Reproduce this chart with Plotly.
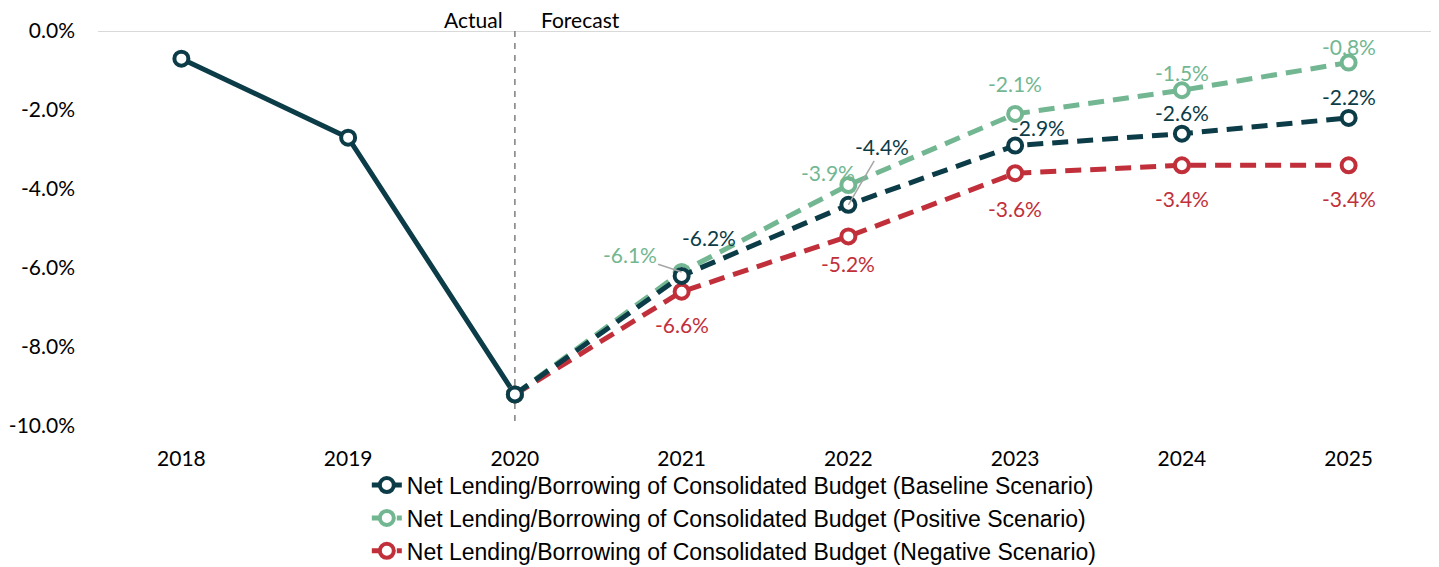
import plotly.graph_objects as go

years = ["2018", "2019", "2020", "2021", "2022", "2023", "2024", "2025"]
forecast_start = "2020"

baseline = [-0.7, -2.7, -9.2, -6.2, -4.4, -2.9, -2.6, -2.2]
positive = [None, None, -9.2, -6.1, -3.9, -2.1, -1.5, -0.8]
negative = [None, None, -9.2, -6.6, -5.2, -3.6, -3.4, -3.4]

y_ticks = [0, -2, -4, -6, -8, -10]
y_tick_text = [f"{v:.1f}%" for v in y_ticks]

names = [
    "Net Lending/Borrowing of Consolidated Budget (Baseline Scenario)",
    "Net Lending/Borrowing of Consolidated Budget (Positive Scenario)",
    "Net Lending/Borrowing of Consolidated Budget (Negative Scenario)",
]

c_base = "#0b3c47"
c_pos = "#72b792"
c_neg = "#c1303a"

tick_font = dict(family="Lato", size=21, color="#000000")
lab_font = "Lato"

k = years.index(forecast_start)
xi = list(range(len(years)))

fig = go.Figure()

marker = lambda c: dict(symbol="circle", size=14, color="white", line=dict(color=c, width=4))
dash = "16px,9px"
lw = 5

# actual part of baseline (solid)
fig.add_trace(go.Scatter(x=xi[:k + 1], y=baseline[:k + 1], mode="lines+markers",
                         name=names[0], line=dict(color=c_base, width=lw),
                         marker=marker(c_base), legendrank=1))
# forecast lines (dashed)
fig.add_trace(go.Scatter(x=xi[k:], y=negative[k:], mode="lines+markers",
                         name=names[2], line=dict(color=c_neg, width=lw, dash=dash),
                         marker=marker(c_neg), legendrank=3))
fig.add_trace(go.Scatter(x=xi[k:], y=positive[k:], mode="lines+markers",
                         name=names[1], line=dict(color=c_pos, width=lw, dash=dash),
                         marker=marker(c_pos), legendrank=2))
fig.add_trace(go.Scatter(x=xi[k:], y=baseline[k:], mode="lines+markers",
                         showlegend=False, line=dict(color=c_base, width=lw, dash=dash),
                         marker=marker(c_base)))

# data label offsets (dx, dy in px, leader line flag)
pos_off = {"2021": (-52, 17, True), "2022": (-20, 13, False), "2023": (0, 30, False),
           "2024": (0, 18, False), "2025": (0, 16, False)}
base_off = {"2021": (27, 38, False), "2022": (34, 58, True),
            "2023": (23, 18, False), "2024": (0, 21, False), "2025": (0, 21, False)}
neg_off = {"2021": (0, -33, False), "2022": (0, -27, False), "2023": (0, -35, False),
           "2024": (0, -33, False), "2025": (0, -33, False)}

annotations = []


def add_labels(vals, offs, color):
    for i, (yr, v) in enumerate(zip(years, vals)):
        o = offs.get(yr)
        if v is None or o is None:
            continue
        dx, dy, leader = o
        a = dict(x=i, y=v, xref="x", yref="y", text=f"{v:.1f}%",
                 font=dict(family=lab_font, size=21, color=color))
        if leader:
            a.update(showarrow=True, ax=dx, ay=-dy, arrowhead=0, arrowwidth=1.5,
                     arrowcolor="#a6a6a6")
        else:
            a.update(showarrow=False, xshift=dx, yshift=dy)
        annotations.append(a)


add_labels(positive, pos_off, c_pos)
add_labels(baseline, base_off, c_base)
add_labels(negative, neg_off, c_neg)

annotations.append(dict(x=k, y=0, xref="x", yref="y", text="Actual", showarrow=False,
                        xanchor="right", yanchor="bottom", xshift=-10, yshift=-3,
                        font=dict(family=lab_font, size=21, color="#000000")))
annotations.append(dict(x=k, y=0, xref="x", yref="y", text="Forecast", showarrow=False,
                        xanchor="left", yanchor="bottom", xshift=24, yshift=-3,
                        font=dict(family=lab_font, size=21, color="#000000")))

fig.add_shape(type="line", xref="paper", yref="y", x0=0, x1=1, y0=0, y1=0,
              line=dict(color="#d9d9d9", width=2), layer="below")
fig.add_shape(type="line", xref="x", yref="y", x0=k, x1=k, y0=0, y1=-10,
              line=dict(color="#7f7f7f", width=1.5, dash="6px,6px"), layer="below")

fig.update_layout(
    width=1431, height=559,
    margin=dict(l=90, r=7, t=23, b=141, autoexpand=False),
    paper_bgcolor="white", plot_bgcolor="white",
    annotations=annotations,
    showlegend=True,
    legend=dict(orientation="v", x=0.477, xanchor="center",
                yref="container", y=0.185, yanchor="top",
                font=dict(family="Liberation Sans", size=23, color="#000000"),
                tracegroupgap=0, bgcolor="rgba(0,0,0,0)"),
    xaxis=dict(tickvals=xi, ticktext=years,
               range=[-0.5, len(years) - 0.5], showgrid=False, zeroline=False,
               showline=False, ticks="", tickfont=tick_font, ticklabelstandoff=18),
    yaxis=dict(range=[-10, 0], tickvals=y_ticks, ticktext=y_tick_text,
               showgrid=False, zeroline=False, showline=False, ticks="",
               tickfont=tick_font, ticklabelstandoff=22),
)

fig.write_html("out.html")
